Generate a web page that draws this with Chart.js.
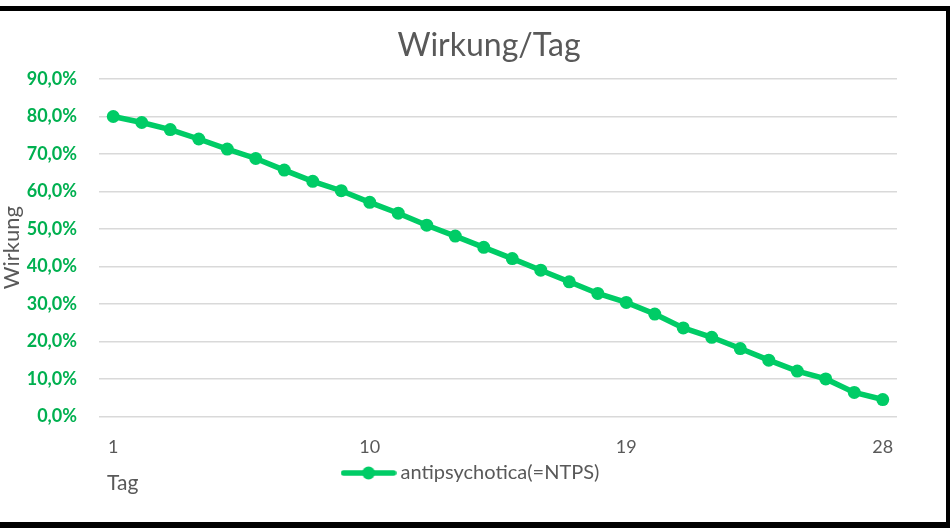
<!DOCTYPE html>
<html>
<head>
<meta charset="utf-8">
<script src="https://cdn.jsdelivr.net/npm/chart.js@4"></script>
<style>
  body { margin: 0; background: #fff; }
  #box {
    position: absolute; top: 6px; left: 0;
    width: 946px; height: 511px;
    border-top: 5px solid #000; border-right: 4px solid #000; border-bottom: 6px solid #000;
    background: #fff;
  }
</style>
</head>
<body>
<div id="box"><canvas id="wirkungChart" width="946" height="511"></canvas></div>
<script>
// Wirkung pro Tag (in %)
var dayLabels = ["1", "2", "3", "4", "5", "6", "7", "8", "9", "10", "11", "12", "13", "14",
                 "15", "16", "17", "18", "19", "20", "21", "22", "23", "24", "25", "26", "27", "28"];
var wirkungData = [80.0, 78.4, 76.5, 74.0, 71.3, 68.8, 65.7, 62.7, 60.2, 57.1, 54.2, 51.0, 48.1, 45.1,
                   42.1, 39.0, 35.9, 32.8, 30.4, 27.3, 23.6, 21.1, 18.1, 15.0, 12.1, 10.0, 6.4, 4.5];
var yTicks = [0, 10, 20, 30, 40, 50, 60, 70, 80, 90];
var seriesName = "antipsychotica(=NTPS)";

var lineColor = "#00CC66";
var greyText = "#595959";
var fontName = "Lato, 'Open Sans', sans-serif";

// legend marker: line with a dot in the middle
var marker = document.createElement("canvas");
marker.width = 56;
marker.height = 14;
var mctx = marker.getContext("2d");
mctx.strokeStyle = lineColor;
mctx.lineWidth = 5.5;
mctx.lineCap = "round";
mctx.beginPath();
mctx.moveTo(3, 7);
mctx.lineTo(53, 7);
mctx.stroke();
mctx.fillStyle = lineColor;
mctx.beginPath();
mctx.arc(28, 7, 6.5, 0, Math.PI * 2);
mctx.fill();

// title and axis titles drawn by hand so they sit where Excel puts them
var chartTexts = {
    id: "chartTexts",
    afterDraw: function (chart) {
        var ctx = chart.ctx;
        var area = chart.chartArea;
        ctx.save();
        ctx.fillStyle = greyText;
        ctx.textBaseline = "middle";
        ctx.textAlign = "center";
        ctx.font = "32px " + fontName;
        ctx.fillText("Wirkung/Tag", 489, 35);

        ctx.font = "22px " + fontName;
        ctx.translate(12, (area.top + area.bottom) / 2);
        ctx.rotate(-Math.PI / 2);
        ctx.fillText("Wirkung", 0, 0);
        ctx.restore();

        ctx.save();
        ctx.fillStyle = greyText;
        ctx.font = "21px " + fontName;
        ctx.textBaseline = "middle";
        ctx.textAlign = "left";
        ctx.fillText("Tag", 107, 472);
        ctx.restore();
    }
};

new Chart("wirkungChart", {
    type: "line",
    data: {
        labels: dayLabels,
        datasets: [{
            label: seriesName,
            data: wirkungData,
            borderColor: lineColor,
            backgroundColor: lineColor,
            borderWidth: 5.5,
            pointRadius: 6.5,
            pointBackgroundColor: lineColor,
            pointBorderWidth: 0,
            tension: 0
        }]
    },
    options: {
        responsive: false,
        animation: false,
        layout: { padding: { left: 0, right: 0, top: 68, bottom: 29 } },
        plugins: {
            title: { display: false },
            legend: {
                position: "bottom",
                labels: {
                    usePointStyle: true,
                    pointStyleWidth: 44,
                    color: greyText,
                    font: { family: fontName, size: 20 },
                    padding: 2,
                    generateLabels: function (chart) {
                        return [{
                            text: seriesName,
                            pointStyle: marker,
                            fillStyle: lineColor,
                            strokeStyle: lineColor,
                            lineWidth: 0,
                            fontColor: greyText,
                            datasetIndex: 0
                        }];
                    }
                }
            },
            tooltip: { enabled: false }
        },
        scales: {
            x: {
                offset: true,
                grid: { display: false },
                border: { display: false },
                afterFit: function (axis) { axis.height -= 9; },
                ticks: {
                    autoSkip: false,
                    maxRotation: 0,
                    padding: 12,
                    color: greyText,
                    font: { family: fontName, size: 18 },
                    callback: function (v, i) { return i % 9 === 0 ? dayLabels[i] : ""; }
                }
            },
            y: {
                min: yTicks[0],
                max: yTicks[yTicks.length - 1],
                afterBuildTicks: function (axis) {
                    axis.ticks = yTicks.map(function (v) { return { value: v }; });
                },
                afterFit: function (axis) { axis.width = 99; },
                grid: { color: "#D9D9D9", lineWidth: 1.5, drawTicks: false },
                border: { display: false },
                ticks: {
                    padding: 22,
                    color: "#00B050",
                    font: { family: fontName, size: 18, weight: "bold" },
                    callback: function (v) { return v.toFixed(1).replace(".", ",") + "%"; }
                }
            },
            // empty right axis only keeps the right margin of the plot
            yRight: {
                position: "right",
                grid: { display: false, drawTicks: false },
                border: { display: false },
                ticks: { display: false },
                afterFit: function (axis) { axis.width = 49; }
            }
        }
    },
    plugins: [chartTexts]
});
</script>
</body>
</html>
